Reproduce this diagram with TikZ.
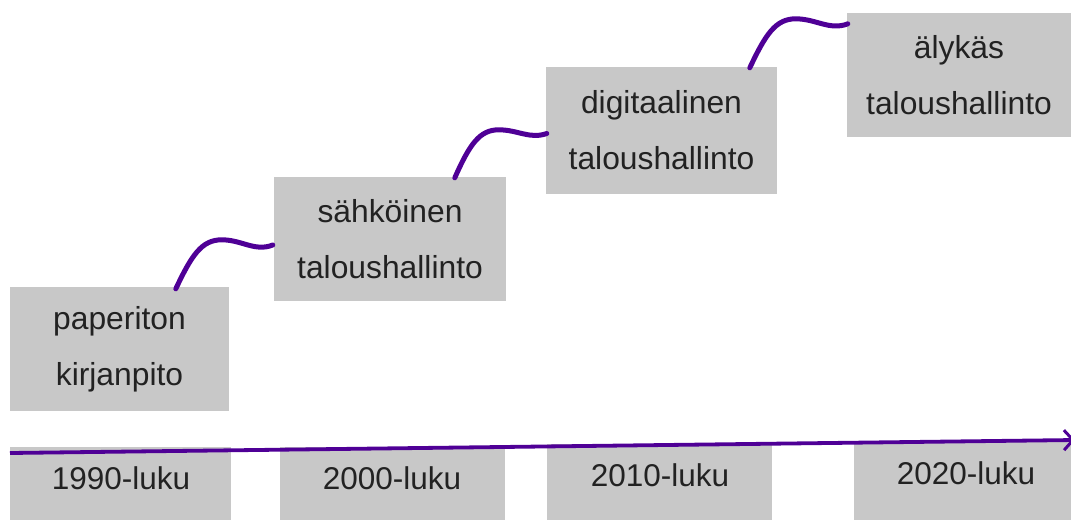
\documentclass[tikz,border=0pt]{standalone}
\usepackage{fontspec}
\setmainfont{Liberation Sans}
\usetikzlibrary{arrows.meta,calc}
\definecolor{boxgray}{HTML}{C8C8C8}
\definecolor{lilac}{HTML}{4F0096}
\definecolor{txt}{HTML}{222222}
\tikzset{
  stagebox/.style={fill=boxgray, draw=none, inner sep=0pt, align=center,
    text=txt, font=\fontsize{31.8}{56}\selectfont},
  erabox/.style={fill=boxgray, draw=none, inner sep=0pt},
  eralabel/.style={inner sep=0pt, text=txt, font=\fontsize{31.5}{37}\selectfont},
  wave/.style={draw=lilac, line width=5pt, line cap=round},
  timeline/.style={draw=lilac, line width=3.8pt, -{Straight Barb[length=9pt,width=20pt,line width=3pt]}}
}
\begin{document}
\begin{tikzpicture}[x=1pt,y=-1pt]
\useasboundingbox (0,0) rectangle (1071,520);
% stage boxes
\node[stagebox, minimum width=219pt, minimum height=124pt] (b1) at (119.5,349) {paperiton\\kirjanpito};
\node[stagebox, minimum width=232pt, minimum height=124pt] (b2) at (390,239) {sähköinen\\taloushallinto};
\node[stagebox, minimum width=231pt, minimum height=127pt] (b3) at (661.5,130.5) {digitaalinen\\taloushallinto};
\node[stagebox, minimum width=224pt, minimum height=124pt] (b4) at (959,75) {älykäs\\taloushallinto};
% era boxes
\node[erabox, minimum width=221pt, minimum height=73pt] (e1) at (120.5,483.5) {};
\node[erabox, minimum width=225pt, minimum height=73pt] (e2) at (392.5,483.5) {};
\node[erabox, minimum width=225pt, minimum height=76pt] (e3) at (659.5,482) {};
\node[erabox, minimum width=217pt, minimum height=78pt] (e4) at (962.5,481) {};
\node[eralabel] (l1) at (121,478) {1990-luku};
\node[eralabel] (l2) at (392,478) {2000-luku};
\node[eralabel] (l3) at (660,475) {2010-luku};
\node[eralabel] (l4) at (966,473) {2020-luku};
% waves
\coordinate (s1) at ($(b1.north west)+(166,2)$);
\coordinate (t1) at ($(b2.west)+(-1,6)$);
\coordinate (s2) at ($(b2.north west)+(181,1)$);
\coordinate (t2) at ($(b3.west)+(1,3)$);
\coordinate (s3) at ($(b3.north west)+(204,1)$);
\coordinate (t3) at ($(b4.north west)+(1,11)$);
\draw[wave] (s1) .. controls +(16,-34) and +(-20,0) .. ($(s1)+(46,-49)$)
  .. controls +(20,0) and +(-18,7) .. (t1);
\draw[wave] (s2) .. controls +(15,-34) and +(-19,0) .. ($(s2)+(44,-48)$)
  .. controls +(19,0) and +(-17,6) .. (t2);
\draw[wave] (s3) .. controls +(16,-34) and +(-20,0) .. ($(s3)+(46,-49)$)
  .. controls +(20,0) and +(-18,7) .. (t3);
% timeline
\coordinate (a0) at (10,453);
\coordinate (a1) at (1075,440);
\draw[timeline] (a0) -- (a1);
\end{tikzpicture}
\end{document}
